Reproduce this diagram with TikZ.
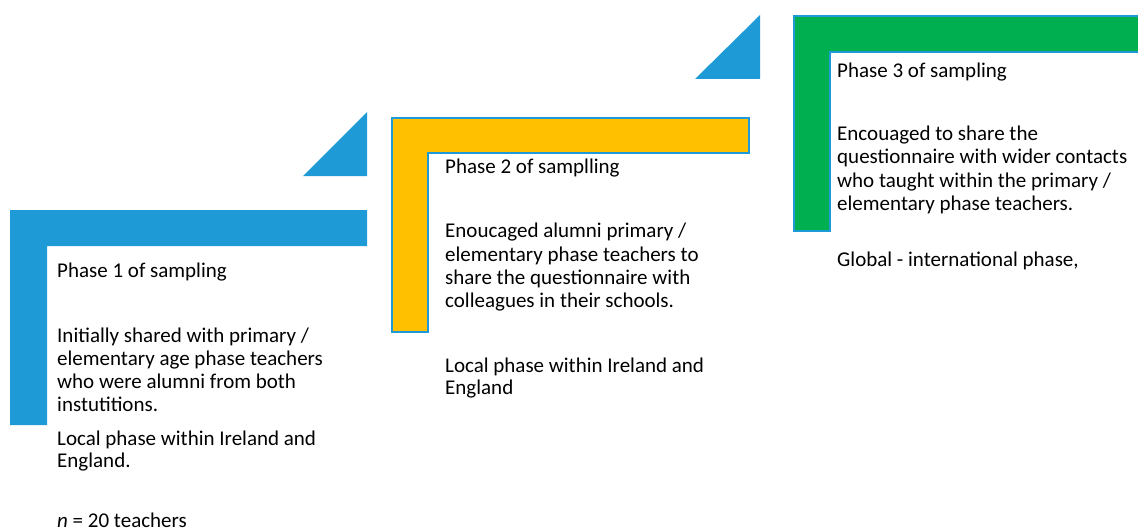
\documentclass[tikz,border=0pt]{standalone}
\usepackage{fontspec}
\setmainfont{Carlito}
\definecolor{pblue}{RGB}{30,155,214}
\definecolor{pyellow}{RGB}{255,192,0}
\definecolor{pgreen}{RGB}{0,176,80}
\newcommand{\plines}[1]{\begin{tabular}[t]{@{}l@{}}#1\end{tabular}}
\begin{document}
\begin{tikzpicture}[x=1pt,y=-1pt,
  txt/.style={anchor=base west,inner sep=0pt,font=\fontsize{21}{23.3}\selectfont},
  txtb/.style={anchor=base west,inner sep=0pt,font=\fontsize{21}{22}\selectfont}]
\useasboundingbox (0,0) rectangle (1138,532);
\clip (0,0) rectangle (1138,532);
% Phase 1 shapes
\fill[pblue] (10,210) -- (367,210) -- (367,246) -- (47,246) -- (47,425) -- (10,425) -- cycle;
\fill[pblue] (367,112) -- (367,176) -- (303,176) -- cycle;
% Phase 2 shapes
\filldraw[fill=pyellow,draw=pblue,line width=1.5pt] (392,118) -- (749,118) -- (749,153) -- (428,153) -- (428,332) -- (392,332) -- cycle;
\fill[pblue] (760,15) -- (760,79) -- (695,79) -- cycle;
% Phase 3 shapes
\filldraw[fill=pgreen,draw=pblue,line width=1.5pt] (794,16) -- (1150,16) -- (1150,52) -- (830,52) -- (830,231) -- (794,231) -- cycle;
% Texts
\node[txt] (p1title) at (57,277) {Phase 1 of sampling};
\node[txt] (p1text) at (57,342) {\plines{Initially shared with primary /\\elementary age phase teachers\\who were alumni from both\\instutitions.}};
\node[txtb] (p1local) at (57,445) {\plines{Local phase within Ireland and\\England.}};
\node[txt] (p1n) at (57,527) {\textit{n} = 20 teachers};
\node[txt] (p2title) at (445,174) {Phase 2 of samplling};
\node[txt] (p2text) at (445,237.7) {\plines{Enoucaged alumni primary /\\elementary phase teachers to\\share the questionnaire with\\colleagues in their schools.}};
\node[txtb] (p2local) at (445,372.7) {\plines{Local phase within Ireland and\\England}};
\node[txt] (p3title) at (837,77.3) {Phase 3 of sampling};
\node[txt] (p3text) at (837,140.7) {\plines{Encouaged to share the\\questionnaire with wider contacts\\who taught within the primary /\\elementary phase teachers.}};
\node[txt] (p3global) at (837,266.7) {Global - international phase,};
\end{tikzpicture}
\end{document}
